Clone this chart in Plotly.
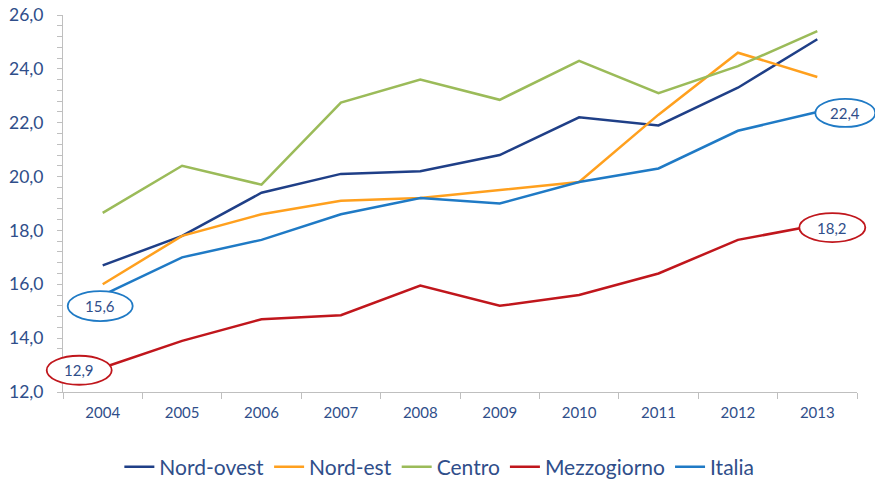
import plotly.graph_objects as go

years = ["2004", "2005", "2006", "2007", "2008", "2009", "2010", "2011", "2012", "2013"]
nord_ovest = [16.7, 17.8, 19.4, 20.1, 20.2, 20.8, 22.2, 21.9, 23.3, 25.1]
nord_est = [16.0, 17.8, 18.6, 19.1, 19.2, 19.5, 19.8, 22.3, 24.6, 23.7]
centro = [18.65, 20.4, 19.7, 22.75, 23.6, 22.85, 24.3, 23.1, 24.1, 25.4]
mezzogiorno = [12.9, 13.9, 14.7, 14.85, 15.95, 15.2, 15.6, 16.4, 17.65, 18.2]
italia = [15.6, 17.0, 17.65, 18.6, 19.2, 19.0, 19.8, 20.3, 21.7, 22.4]

series = [
    ("Nord-ovest", nord_ovest, "#1F3F87"),
    ("Nord-est", nord_est, "#FFA01E"),
    ("Centro", centro, "#9BBB59"),
    ("Mezzogiorno", mezzogiorno, "#C0161C"),
    ("Italia", italia, "#1F7AC5"),
]

Y_MIN, Y_MAX = 12, 26
text_color = "#2F4E8A"
font_family = "Lato, 'Open Sans', sans-serif"

fig = go.Figure()
for name, vals, col in series:
    fig.add_trace(go.Scatter(x=years, y=vals, name=name, mode="lines",
                             line=dict(color=col, width=2.5)))

# callouts: (series values, color, index, pixel box offsets x0,x1,y0,y1)
callouts = [
    (italia, "#1F7AC5", 0, (-35, 30, -26, 4)),
    (mezzogiorno, "#C0161C", 0, (-56, 9, -17, 12)),
    (italia, "#1F7AC5", 9, (-2, 58, -15, 13)),
    (mezzogiorno, "#C0161C", 9, (-18, 48, -17, 12)),
]
n = len(years)
for vals, col, i, (x0, x1, y0, y1) in callouts:
    # anchor in paper space derived from the axis ranges (category i, value)
    px = (i + 0.5) / n
    py = (vals[i] - Y_MIN) / (Y_MAX - Y_MIN)
    fig.add_shape(type="circle", xref="paper", yref="paper",
                  xsizemode="pixel", ysizemode="pixel",
                  xanchor=px, yanchor=py,
                  x0=x0, x1=x1, y0=y0, y1=y1,
                  line=dict(color=col, width=1.8), fillcolor="white", layer="above")
    fig.add_annotation(x=i, y=vals[i], xref="x", yref="y",
                       text=f"{vals[i]:.1f}".replace(".", ","), showarrow=False,
                       xshift=(x0 + x1) / 2, yshift=(y0 + y1) / 2,
                       font=dict(size=15, color=text_color, family=font_family))

fig.update_layout(
    width=875, height=480,
    margin=dict(l=63, r=18, t=15, b=88, autoexpand=False),
    plot_bgcolor="white", paper_bgcolor="white",
    separators=",.",
    font=dict(family=font_family, color=text_color),
    legend=dict(orientation="h", x=0.474, xanchor="center", y=-0.199, yanchor="middle",
                font=dict(size=21, color=text_color), itemwidth=30, tracegroupgap=0),
    xaxis=dict(type="category", range=[-0.5, 9.5], showline=True, linecolor="#BFBFBF",
               linewidth=1, ticks="outside", tickson="boundaries", ticklen=6,
               tickcolor="#BFBFBF", showgrid=False, automargin=False,
               ticklabelstandoff=7,
               tickfont=dict(size=15, color=text_color)),
    yaxis=dict(range=[Y_MIN, Y_MAX], dtick=2, tickformat=".1f", showline=True,
               linecolor="#BFBFBF", linewidth=1, ticks="outside", ticklen=5,
               tickcolor="#BFBFBF", showgrid=False, zeroline=False, automargin=False,
               ticklabelstandoff=10,
               tickfont=dict(size=17.5, color=text_color),
               minor=dict(dtick=0.4, ticks="outside", ticklen=5, tickcolor="#BFBFBF",
                          showgrid=False)),
)

fig.write_html("out.html", config={"displayModeBar": False},
               post_script="document.body.style.margin='0';document.body.style.overflow='hidden';")
